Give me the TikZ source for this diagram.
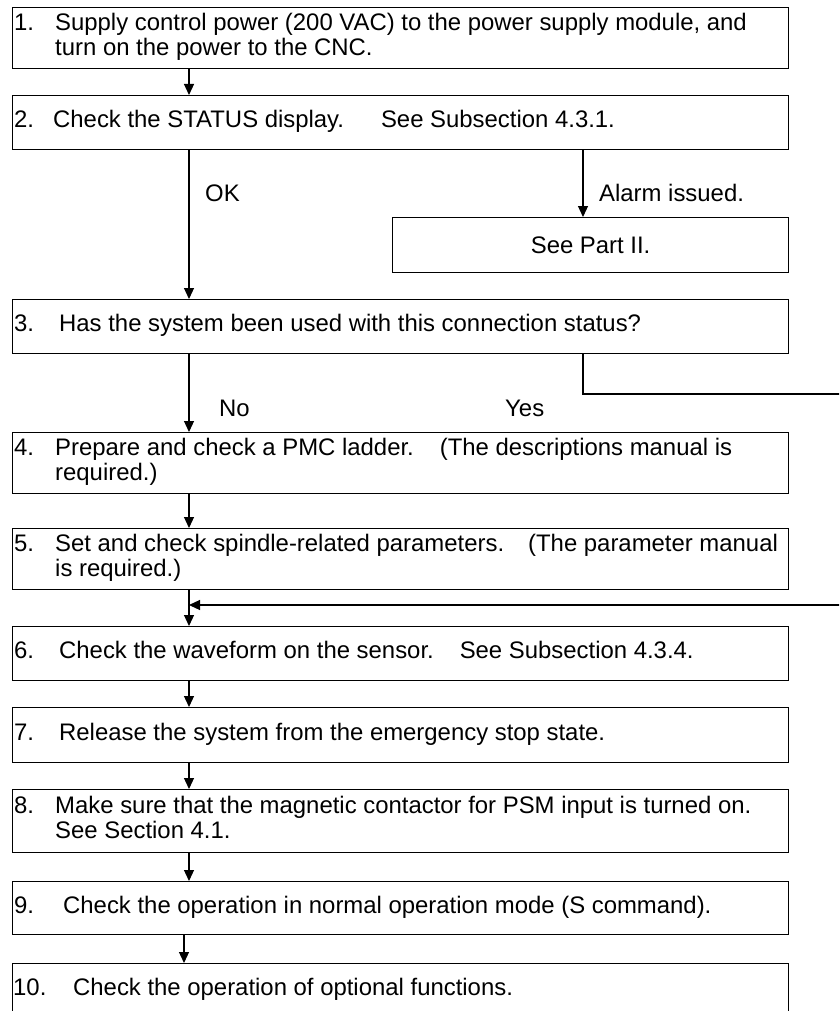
\documentclass[tikz,border=0pt]{standalone}
\usepackage{fontspec}
\setmainfont{Liberation Sans}
\usetikzlibrary{arrows.meta}
\newcommand\stp[3]{\begin{tabular}{@{}p{#2pt}@{}l@{}}#1 & #3\end{tabular}}
\begin{document}
\begin{tikzpicture}[x=1pt,y=-1pt,
  box/.style={draw, line width=1.2pt, inner sep=0pt, anchor=north west, minimum width=776pt},
  txt/.style={anchor=west, inner sep=0pt, font=\fontsize{23.9}{24}\selectfont, align=left},
  lbl/.style={anchor=west, inner sep=0pt, font=\fontsize{23.9}{24}\selectfont},
  arr/.style={line width=1.2pt, -{Triangle[length=11pt,width=10pt]}},
  ln/.style={line width=1.2pt}]
\clip (0,0) rectangle (839,1011);
\fill[white] (0,0) rectangle (839,1011);
% boxes
\node[box, minimum height=61pt] (b1) at (12,7) {};
\node[box, minimum height=54pt] (b2) at (12,95) {};
\node[box, minimum height=55pt, minimum width=396pt] (p2) at (392,217) {};
\node[box, minimum height=54pt] (b3) at (12,299) {};
\node[box, minimum height=61pt] (b4) at (12,432) {};
\node[box, minimum height=61pt] (b5) at (12,528) {};
\node[box, minimum height=54pt] (b6) at (12,626) {};
\node[box, minimum height=55pt] (b7) at (12,707) {};
\node[box, minimum height=63pt] (b8) at (12,789) {};
\node[box, minimum height=53pt] (b9) at (12,881) {};
\node[box, minimum height=54pt] (b10) at (12,963) {};
% texts
\node[txt] (t1) at ([xshift=2pt]b1.west) {\stp{1.}{41}{Supply control power (200 VAC) to the power supply module, and\\ & turn on the power to the CNC.}};
\node[txt] (t2) at ([xshift=2pt]b2.west) {\stp{2.}{39}{Check the STATUS display.\hspace{37pt}See Subsection 4.3.1.}};
\node[txt, anchor=center] (tp2) at (p2.center) {See Part II.};
\node[txt] (t3) at ([xshift=2pt]b3.west) {\stp{3.}{45}{Has the system been used with this connection status?}};
\node[txt] (t4) at ([xshift=2pt]b4.west) {\stp{4.}{41}{Prepare and check a PMC ladder.\hspace{26pt}(The descriptions manual is\\ & required.)}};
\node[txt] (t5) at ([xshift=2pt]b5.west) {\stp{5.}{41}{Set and check spindle-related parameters.\hspace{24pt}(The parameter manual\\ & is required.)}};
\node[txt] (t6) at ([xshift=2pt]b6.west) {\stp{6.}{45}{Check the waveform on the sensor.\hspace{26pt}See Subsection 4.3.4.}};
\node[txt] (t7) at ([xshift=2pt]b7.west) {\stp{7.}{45}{Release the system from the emergency stop state.}};
\node[txt] (t8) at ([xshift=2pt]b8.west) {\stp{8.}{41}{Make sure that the magnetic contactor for PSM input is turned on.\\ & See Section 4.1.}};
\node[txt] (t9) at ([xshift=2pt]b9.west) {\stp{9.}{49}{Check the operation in normal operation mode (S command).}};
\node[txt] (t10) at ([xshift=1pt]b10.west) {\stp{10.}{60}{Check the operation of optional functions.}};
% coordinates
\coordinate (mx) at (189,0);
\coordinate (ax) at (583,0);
\coordinate (nx) at (184,0);
\coordinate (yc) at (583,394);
\coordinate (ye) at (845,394);
\coordinate (re) at (845,605);
\coordinate (rj) at (189,605);
% connectors
\draw[arr] (b1.south -| mx) -- (b2.north -| mx);
\draw[arr] (b2.south -| mx) -- (b3.north -| mx);
\draw[arr] (b2.south -| ax) -- (p2.north -| ax);
\draw[arr] (b3.south -| mx) -- (b4.north -| mx);
\draw[ln] (b3.south -| ax) -- (yc) -- (ye);
\draw[arr] (b4.south -| mx) -- (b5.north -| mx);
\draw[arr] (b5.south -| mx) -- (b6.north -| mx);
\draw[arr] (re) -- (rj);
\draw[arr] (b6.south -| mx) -- (b7.north -| mx);
\draw[arr] (b7.south -| mx) -- (b8.north -| mx);
\draw[arr] (b8.south -| mx) -- (b9.north -| mx);
\draw[arr] (b9.south -| nx) -- (b10.north -| nx);
% labels
\node[lbl] (ok) at (205,193) {OK};
\node[lbl] (al) at (599,193) {Alarm issued.};
\node[lbl] (no) at (219,408) {No};
\node[lbl] (yes) at (505,408) {Yes};
\end{tikzpicture}
\end{document}
